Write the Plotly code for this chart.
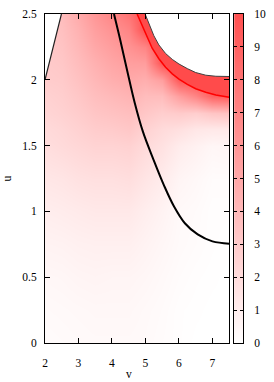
import plotly.graph_objects as go

# ---------------- data ----------------
v_grid = [2.0, 2.5, 3.0, 3.5, 4.0, 4.5, 5.0, 5.5, 6.0, 6.5, 7.0, 7.5]
u_grid = [0.0, 0.25, 0.5, 0.75, 1.0, 1.25, 1.5, 1.625, 1.75, 1.875, 2.0, 2.125, 2.25, 2.375, 2.5]
z_vals = [
    [0.2, 0.25, 0.3, 0.35, 0.35, 0.35, 0.3, 0.2, 0.1, 0.0, 0.0, 0.0],
    [0.3, 0.35, 0.4, 0.45, 0.45, 0.45, 0.35, 0.25, 0.1, 0.05, 0.0, 0.0],
    [0.45, 0.5, 0.6, 0.65, 0.6, 0.6, 0.5, 0.35, 0.2, 0.1, 0.05, 0.0],
    [0.7, 0.75, 0.85, 0.9, 0.9, 0.9, 0.7, 0.5, 0.3, 0.2, 0.1, 0.05],
    [1.0, 1.1, 1.2, 1.3, 1.3, 1.3, 1.0, 0.7, 0.35, 0.25, 0.1, 0.1],
    [1.4, 1.5, 1.7, 1.8, 1.8, 1.9, 1.5, 1.1, 0.6, 0.4, 0.2, 0.2],
    [1.9, 2.1, 2.3, 2.5, 2.5, 2.6, 2.1, 1.7, 1.1, 0.8, 0.5, 0.6],
    [2.1, 2.3, 2.6, 2.9, 3.0, 3.2, 2.6, 2.1, 1.8, 1.4, 1.3, 1.3],
    [2.4, 2.6, 2.9, 3.3, 3.5, 3.7, 3.2, 2.8, 3.0, 2.8, 3.3, 3.5],
    [2.6, 2.8, 3.2, 3.7, 4.0, 4.3, 3.8, 3.8, 5.5, 7.0, 9.0, 9.5],
    [2.9, 3.0, 3.5, 4.1, 4.6, 4.9, 4.6, 5.5, 9.5, 10, 10, 10],
    [3.0, 3.2, 3.8, 4.5, 5.1, 5.5, 5.6, 9.8, 10, 10, 10, 10],
    [3.1, 3.4, 4.1, 5.0, 5.6, 6.2, 7.0, 10, 10, 10, 10, 10],
    [3.2, 3.6, 4.4, 5.5, 6.2, 7.0, 10, 10, 10, 10, 10, 10],
    [3.3, 3.8, 4.8, 6.0, 6.9, 8.0, 10, 10, 10, 10, 10, 10],
]

# upper boundary curve (thin line, white above it)
upper_v = [4.99, 5.1, 5.25, 5.4, 5.6, 5.8, 6.0, 6.25, 6.5, 6.8, 7.1, 7.5]
upper_u = [2.5, 2.43, 2.335, 2.265, 2.2, 2.155, 2.12, 2.085, 2.055, 2.035, 2.027, 2.025]

# lower edge of the saturated band
band_v = [4.75, 4.9, 5.05, 5.2, 5.4, 5.6, 5.8, 6.0, 6.25, 6.5, 6.8, 7.1, 7.5]
band_u = [2.5, 2.41, 2.32, 2.24, 2.16, 2.095, 2.045, 2.005, 1.965, 1.932, 1.905, 1.885, 1.868]

# middle black curve
mid_v = [4.06, 4.25, 4.456, 4.676, 4.926, 5.235, 5.559, 5.853, 6.176, 6.559, 7.0, 7.5]
mid_u = [2.5, 2.299, 2.067, 1.828, 1.604, 1.396, 1.194, 1.037, 0.910, 0.825, 0.772, 0.755]

# left boundary line (white to its left)
left_v = [2.0, 2.49]
left_u = [2.0, 2.5]

x_ticks = [2, 3, 4, 5, 6, 7]
y_ticks = [0, 0.5, 1, 1.5, 2, 2.5]
y_ticktext = ["0", "0.5", "1", "1.5", "2", "2.5"]
cb_ticks = list(range(0, 11))
cb_range = [0, 10]

# ---------------- figure ----------------
FONT = "Liberation Serif"
scale = [[0, "rgb(255,255,255)"], [1, "rgb(255,80,80)"]]

fig = go.Figure()
fig.add_trace(go.Heatmap(x=v_grid, y=u_grid, z=z_vals, zmin=0, zmax=10,
                         colorscale=scale, zsmooth="best", showscale=False,
                         hoverinfo="skip"))

# saturated band
fig.add_trace(go.Scatter(x=band_v + upper_v[::-1], y=band_u + upper_u[::-1],
                         fill="toself", fillcolor="rgb(255,75,75)", mode="none",
                         hoverinfo="skip", showlegend=False))
fig.add_trace(go.Scatter(x=band_v, y=band_u, mode="lines",
                         line=dict(color="rgb(255,0,0)", width=1.5),
                         hoverinfo="skip", showlegend=False))

# white (undefined) regions
fig.add_trace(go.Scatter(x=upper_v + [7.5, upper_v[0]], y=upper_u + [2.5, 2.5],
                         fill="toself", fillcolor="white", mode="none",
                         hoverinfo="skip", showlegend=False))
fig.add_trace(go.Scatter(x=left_v + [2.0], y=left_u + [2.5],
                         fill="toself", fillcolor="white", mode="none",
                         hoverinfo="skip", showlegend=False))

# curves
fig.add_trace(go.Scatter(x=upper_v, y=upper_u, mode="lines",
                         line=dict(color="#404040", width=1),
                         hoverinfo="skip", showlegend=False))
fig.add_trace(go.Scatter(x=left_v, y=left_u, mode="lines",
                         line=dict(color="#202020", width=1.2),
                         hoverinfo="skip", showlegend=False))
fig.add_trace(go.Scatter(x=mid_v, y=mid_u, mode="lines", line_shape="spline",
                         line=dict(color="black", width=2),
                         hoverinfo="skip", showlegend=False))

# colour bar as its own small axes
fig.add_trace(go.Heatmap(x=[0, 1], y=cb_range, z=[[cb_range[0]] * 2, [cb_range[1]] * 2],
                         zmin=0, zmax=10, colorscale=scale, zsmooth="best",
                         showscale=False, hoverinfo="skip", xaxis="x2", yaxis="y2"))

W, H = 274, 382
ml, mr, mt, mb = 45, 28, 8, 39
pw = W - ml - mr
main_right = 187 / pw
cb_left = 192 / pw

axis_common = dict(showline=True, linecolor="black", linewidth=1, mirror="ticks",
                   ticks="inside", tickcolor="black", ticklen=5, tickwidth=1,
                   showgrid=False, zeroline=False,
                   tickfont=dict(family=FONT, size=11.5, color="black"))

fig.update_layout(
    width=W, height=H,
    margin=dict(l=ml, r=mr, t=mt, b=mb, pad=0),
    paper_bgcolor="white", plot_bgcolor="white",
    showlegend=False,
    font=dict(family=FONT, size=11.5, color="black"),
    xaxis=dict(domain=[0, main_right], range=[2, 7.5], tickvals=x_ticks,
               ticklabelstandoff=9, **axis_common),
    yaxis=dict(domain=[0, 1], range=[0, 2.5], tickvals=y_ticks, ticktext=y_ticktext,
               ticklabelstandoff=5, **axis_common),
    xaxis2=dict(domain=[cb_left, 1], range=[0, 1], anchor="y2", showline=True,
                linecolor="black", linewidth=1, mirror=True, ticks="",
                showticklabels=False, showgrid=False, zeroline=False),
    yaxis2=dict(domain=[0, 1], range=cb_range, anchor="x2", side="right",
                tickvals=cb_ticks, showline=True, linecolor="black", linewidth=1,
                mirror="ticks", ticks="inside", ticklen=3, tickwidth=1,
                tickcolor="black", showgrid=False, zeroline=False,
                ticklabelstandoff=8,
                tickfont=dict(family=FONT, size=11.5, color="black")),
    annotations=[
        dict(text="v", x=(130 - ml) / pw, y=(343 - 375) / 335, xref="paper", yref="paper",
             showarrow=False, font=dict(family=FONT, size=11.5, color="black"),
             xanchor="center", yanchor="middle"),
        dict(text="u", x=(6 - ml) / pw, y=(343 - 176) / 335, xref="paper", yref="paper",
             showarrow=False, textangle=-90, font=dict(family=FONT, size=11.5, color="black"),
             xanchor="center", yanchor="middle"),
    ],
)

fig.write_html("out.html",
               config={"displayModeBar": False, "staticPlot": True},
               post_script="document.body.style.margin='0px';document.body.style.overflow='hidden';")
